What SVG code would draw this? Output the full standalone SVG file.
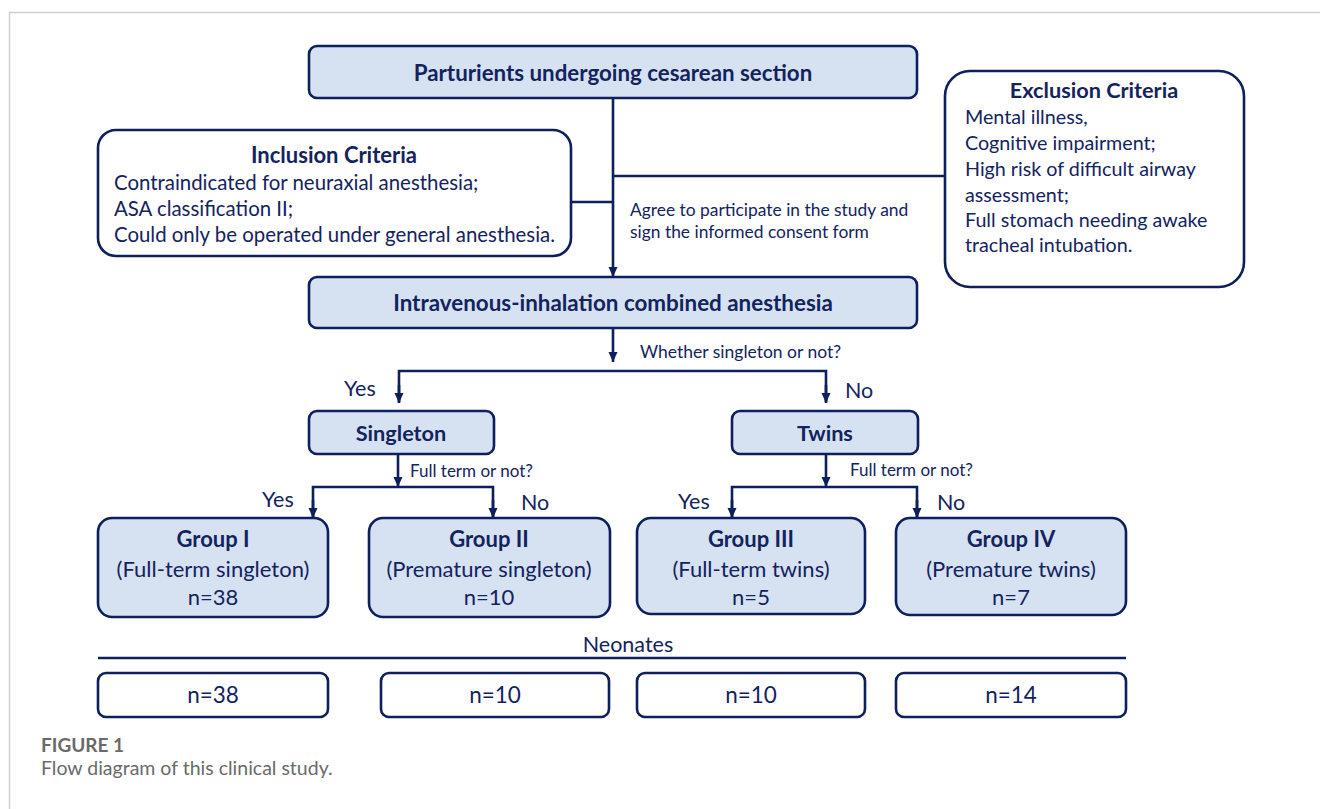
<svg xmlns="http://www.w3.org/2000/svg" width="1320" height="809" viewBox="0 0 1320 809">
<defs>
<marker id="ah" markerUnits="userSpaceOnUse" markerWidth="10" markerHeight="10" refX="10" refY="5" orient="auto">
<path d="M0,0.5 L10,5 L0,9.5 z" fill="#0d1f5c"/>
</marker>
<style>
.box{fill:#d6e2f2;stroke:#0d1f5c;stroke-width:2.6}
.wbox{fill:#ffffff;stroke:#0d1f5c;stroke-width:2.6}
.ln{fill:none;stroke:#0d1f5c;stroke-width:2.6}
.ar{fill:none;stroke:#0d1f5c;stroke-width:2.6;marker-end:url(#ah)}
text{font-family:Lato,"Open Sans","Liberation Sans",sans-serif;fill:#13235e}
.b{font-weight:bold}
.c{text-anchor:middle}
.cap{fill:#6a6a6a}
</style>
</defs>
<rect width="1320" height="809" fill="#ffffff"/>
<path d="M9.5,809 V12.5 H1320" fill="none" stroke="#d0d0d0" stroke-width="1.5"/>

<g id="connectors">
<line class="ar" x1="613" y1="98" x2="613" y2="277"/>
<line class="ln" x1="571" y1="202" x2="613" y2="202"/>
<line class="ln" x1="613" y1="176" x2="945" y2="176"/>
<line class="ar" x1="613" y1="328" x2="613" y2="362"/>
<polyline class="ln" points="399,402 399,371 826,371 826,402"/>
<line class="ar" x1="399" y1="385" x2="399" y2="403"/>
<line class="ar" x1="826" y1="385" x2="826" y2="403"/>
<line class="ar" x1="398" y1="454" x2="398" y2="487"/>
<polyline class="ln" points="313,517 313,487 493,487 493,517"/>
<line class="ar" x1="313" y1="500" x2="313" y2="518"/>
<line class="ar" x1="493" y1="500" x2="493" y2="518"/>
<line class="ar" x1="826" y1="455" x2="826" y2="487"/>
<polyline class="ln" points="732,517 732,487 917,487 917,517"/>
<line class="ar" x1="732" y1="500" x2="732" y2="518"/>
<line class="ar" x1="917" y1="500" x2="917" y2="518"/>
<line class="ln" x1="98" y1="658" x2="1126" y2="658"/>
</g>

<g id="labels">
<text x="630" y="216" font-size="17.4">Agree to participate in the study and</text>
<text x="630" y="238" font-size="17.4">sign the informed consent form</text>
<text x="640" y="358" font-size="17.5">Whether singleton or not?</text>
<text x="344" y="396" font-size="21.5">Yes</text>
<text x="845" y="398" font-size="21.5">No</text>
<text x="410" y="477" font-size="17">Full term or not?</text>
<text x="850" y="476" font-size="17">Full term or not?</text>
<text x="262" y="507" font-size="21.5">Yes</text>
<text x="521" y="510" font-size="21.5">No</text>
<text x="678" y="509" font-size="21.5">Yes</text>
<text x="937" y="510" font-size="21.5">No</text>
<text x="628" y="652" font-size="21.5" class="c">Neonates</text>
</g>

<g id="n-top">
<rect class="box" x="309" y="46" width="608" height="52" rx="8"/>
<text x="613" y="81" font-size="22.3" class="b c">Parturients undergoing cesarean section</text>
</g>

<g id="n-inclusion">
<rect class="wbox" x="98" y="130" width="473" height="126" rx="18"/>
<text x="334" y="163" font-size="22" class="b c">Inclusion Criteria</text>
<text x="114" y="190" font-size="20.4">Contraindicated for neuraxial anesthesia;</text>
<text x="114" y="216" font-size="20.4">ASA classification II;</text>
<text x="114" y="242" font-size="20.4">Could only be operated under general anesthesia.</text>
</g>

<g id="n-exclusion">
<rect class="wbox" x="945" y="71" width="299" height="216" rx="25"/>
<text x="1094" y="98" font-size="21.7" class="b c">Exclusion Criteria</text>
<text x="965" y="124" font-size="19.7">Mental illness,</text>
<text x="965" y="150" font-size="19.7">Cognitive impairment;</text>
<text x="965" y="176" font-size="19.7">High risk of difficult airway</text>
<text x="965" y="202" font-size="19.7">assessment;</text>
<text x="965" y="227" font-size="19.7">Full stomach needing awake</text>
<text x="965" y="252" font-size="19.7">tracheal intubation.</text>
</g>

<g id="n-anesthesia">
<rect class="box" x="309" y="277" width="608" height="51" rx="8"/>
<text x="613" y="311" font-size="22.4" class="b c">Intravenous-inhalation combined anesthesia</text>
</g>

<g id="n-singleton">
<rect class="box" x="309" y="411" width="185" height="43" rx="8"/>
<text x="401" y="441" font-size="21.7" class="b c">Singleton</text>
</g>

<g id="n-twins">
<rect class="box" x="732" y="411" width="186" height="43" rx="8"/>
<text x="825" y="441" font-size="21.7" class="b c">Twins</text>
</g>

<g id="n-group1">
<rect class="box" x="98" y="518" width="230" height="99" rx="14"/>
<text x="213" y="547" font-size="22" class="b c">Group I</text>
<text x="213" y="577" font-size="22" class="c">(Full-term singleton)</text>
<text x="213" y="605" font-size="22" class="c">n=38</text>
</g>

<g id="n-group2">
<rect class="box" x="369" y="518" width="241" height="99" rx="14"/>
<text x="489" y="547" font-size="22" class="b c">Group II</text>
<text x="489" y="577" font-size="22" class="c">(Premature singleton)</text>
<text x="489" y="605" font-size="22" class="c">n=10</text>
</g>

<g id="n-group3">
<rect class="box" x="637" y="518" width="228" height="96" rx="14"/>
<text x="751" y="547" font-size="22" class="b c">Group III</text>
<text x="751" y="577" font-size="22" class="c">(Full-term twins)</text>
<text x="751" y="605" font-size="22" class="c">n=5</text>
</g>

<g id="n-group4">
<rect class="box" x="896" y="518" width="230" height="97" rx="14"/>
<text x="1011" y="547" font-size="22" class="b c">Group IV</text>
<text x="1011" y="577" font-size="22" class="c">(Premature twins)</text>
<text x="1011" y="605" font-size="22" class="c">n=7</text>
</g>

<g id="n-neo1">
<rect class="wbox" x="98" y="673" width="230" height="44" rx="8"/>
<text x="213" y="703" font-size="22.5" class="c">n=38</text>
</g>
<g id="n-neo2">
<rect class="wbox" x="381" y="673" width="228" height="44" rx="8"/>
<text x="495" y="703" font-size="22.5" class="c">n=10</text>
</g>
<g id="n-neo3">
<rect class="wbox" x="637" y="673" width="228" height="44" rx="8"/>
<text x="751" y="703" font-size="22.5" class="c">n=10</text>
</g>
<g id="n-neo4">
<rect class="wbox" x="896" y="673" width="230" height="44" rx="8"/>
<text x="1011" y="703" font-size="22.5" class="c">n=14</text>
</g>

<g id="caption">
<text x="41" y="752" font-size="19" class="b cap">FIGURE 1</text>
<text x="41" y="775" font-size="19.5" class="cap">Flow diagram of this clinical study.</text>
</g>
</svg>
